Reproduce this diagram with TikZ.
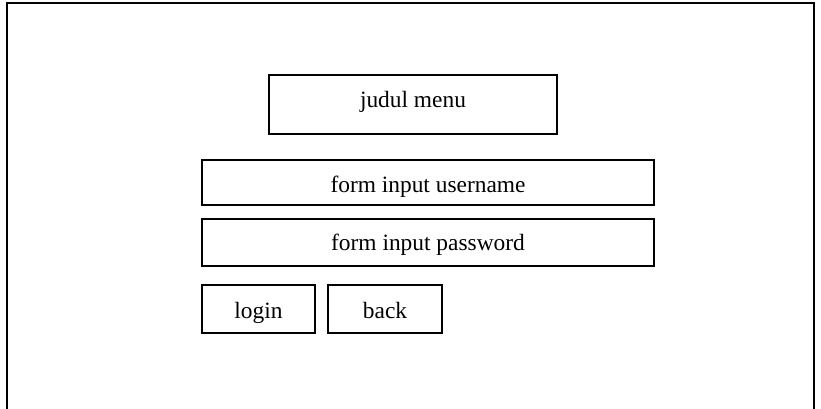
\documentclass[tikz,border=0pt]{standalone}
\usepackage{fontspec}
\setmainfont{Liberation Serif}
\usetikzlibrary{calc}

\begin{document}
\begin{tikzpicture}[x=1pt, y=-1pt,
            kotak/.style={draw, line width=1.6pt, inner sep=0pt, text height=#1, text depth=0pt, font=\fontsize{23.4}{28}\selectfont}]
            \useasboundingbox (0,0) rectangle (821,409);
            \draw[line width=2pt] (6.5,409) -- (6.5,3.5) -- (814,3.5) -- (814,409);
            \node[kotak=5pt, minimum width=288, minimum height=59] (judul) at (413,104.5) {judul menu};
            \node[kotak=19pt, minimum width=452, minimum height=45] (username) at (428,182.5) {form input username};
            \node[kotak=15pt, minimum width=452, minimum height=47] (password) at (428,242.5) {form input password};
            \node[kotak=18pt, minimum width=113, minimum height=48] (login) at (258.5,309) {login};
            \node[kotak=18pt, minimum width=114, minimum height=48] (back) at (385,309) {back};
        \end{tikzpicture}
\end{document}
